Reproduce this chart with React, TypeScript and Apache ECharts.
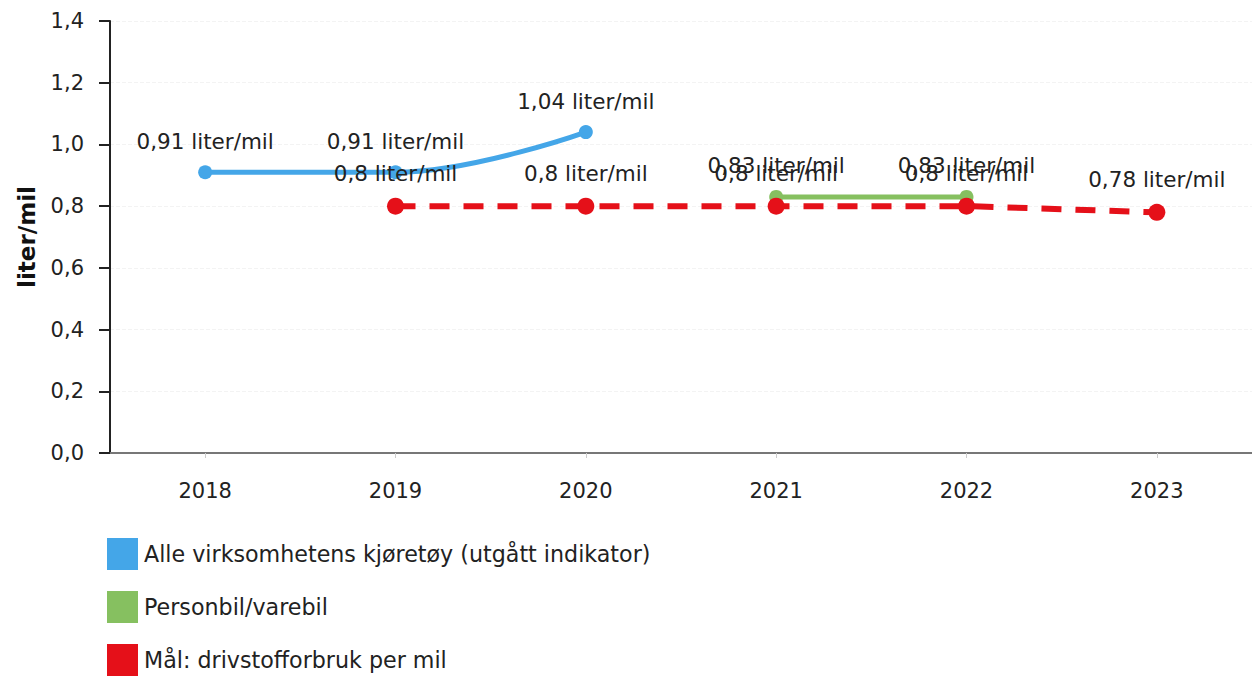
import React, { useEffect, useRef } from "react";
import * as echarts from "echarts";

const years = ["2018", "2019", "2020", "2021", "2022", "2023"];
const alleKjoretoy = [0.91, 0.91, 1.04, null, null, null];
const personbil = [null, null, null, 0.83, 0.83, null];
const maal = [null, 0.8, 0.8, 0.8, 0.8, 0.78];
const seriesNames = [
  "Alle virksomhetens kjøretøy (utgått indikator)",
  "Personbil/varebil",
  "Mål: drivstofforbruk per mil",
];
const yTicks = { min: 0, max: 1.4, interval: 0.2 };

const FONT = "DejaVu Sans";
const fmtVal = (v: number) => String(v).replace(".", ",") + " liter/mil";

export default function App() {
  const ref = useRef<HTMLDivElement>(null);
  useEffect(() => {
    if (!ref.current) return;
    const chart = echarts.init(ref.current, null, { renderer: "svg" });
    const label = {
      show: true,
      position: "top" as const,
      distance: 13,
      fontFamily: FONT,
      fontSize: 21.5,
      color: "#222",
      formatter: (p: any) => fmtVal(p.value),
    };
    const legendTops = [538, 591, 644];
    chart.setOption({
      animation: false,
      textStyle: { fontFamily: FONT },
      grid: { left: 110, right: 0, top: 21, bottom: 223 },
      legend: seriesNames.map((n, i) => ({
        orient: "vertical",
        left: 107,
        top: legendTops[i],
        padding: 0,
        itemWidth: 31,
        itemHeight: 32,
        itemGap: 0,
        icon: "rect",
        textStyle: { fontFamily: FONT, fontSize: 22.2, color: "#222", padding: [0, 0, 0, 1] },
        data: [n],
      })),
      xAxis: {
        type: "category",
        data: years,
        boundaryGap: true,
        axisLine: { lineStyle: { color: "#777", width: 2 } },
        axisTick: { show: true, alignWithLabel: true, length: 5, lineStyle: { color: "#ccc" } },
        axisLabel: { fontFamily: FONT, fontSize: 21, color: "#222", margin: 27 },
        splitLine: { show: false },
      },
      yAxis: {
        type: "value",
        min: yTicks.min,
        max: yTicks.max,
        interval: yTicks.interval,
        name: "liter/mil",
        nameLocation: "middle",
        nameGap: 72,
        nameTextStyle: { fontFamily: FONT, fontSize: 23, fontWeight: "bold", color: "#111" },
        axisLine: { show: true, lineStyle: { color: "#222", width: 2 } },
        axisTick: { show: true, length: 11, lineStyle: { color: "#222", width: 2 } },
        axisLabel: {
          fontFamily: FONT,
          fontSize: 21,
          color: "#222",
          margin: 26,
          formatter: (v: number) => v.toFixed(1).replace(".", ","),
        },
        splitLine: { show: true, lineStyle: { color: "#f3f3f3", type: "dashed", width: 1 } },
      },
      series: [
        {
          name: seriesNames[0],
          type: "line",
          data: alleKjoretoy,
          smooth: 0.4,
          symbol: "circle",
          symbolSize: 14,
          color: "#44a6e8",
          lineStyle: { width: 5, color: "#44a6e8" },
          itemStyle: { color: "#44a6e8" },
          label,
        },
        {
          name: seriesNames[1],
          type: "line",
          data: personbil,
          symbol: "circle",
          symbolSize: 14,
          color: "#86c060",
          lineStyle: { width: 5, color: "#86c060" },
          itemStyle: { color: "#86c060" },
          label,
        },
        {
          name: seriesNames[2],
          type: "line",
          data: maal,
          symbol: "circle",
          symbolSize: 17,
          color: "#e51019",
          lineStyle: { width: 6, color: "#e51019", type: [20, 14] },
          itemStyle: { color: "#e51019" },
          label,
        },
      ],
    });
    return () => chart.dispose();
  }, []);
  return (
    <div
      ref={ref}
      style={{ position: "fixed", left: 0, top: 0, width: 1252, height: 676, background: "#fff" }}
    />
  );
}
